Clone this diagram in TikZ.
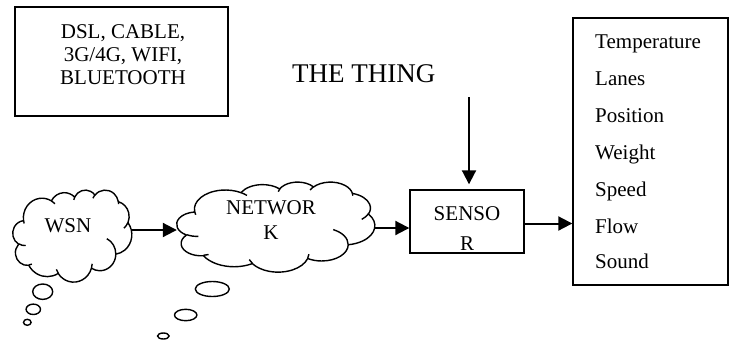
\documentclass[tikz,border=0pt]{standalone}
\usepackage{fontspec}
\setmainfont{Liberation Serif}
\usetikzlibrary{arrows.meta,calc}

% Elliptic arc given by radii, visual start angle and sweep (office-style arcTo)
\tikzset{
  oarc/.code args={#1/#2/#3/#4}{%
    \pgfmathsetmacro\oarcA{atan2(#1*sin(#3),#2*cos(#3))}%
    \pgfmathsetmacro\oarcB{atan2(#1*sin(#3+#4),#2*cos(#3+#4))}%
    \pgfmathsetmacro\oarcD{\oarcB-\oarcA}%
    \pgfmathsetmacro\oarcD{\oarcD<0 ? \oarcD+360 : \oarcD}%
    \edef\oarcKeys{\noexpand\pgfkeysalso{/tikz/x radius=#1,/tikz/y radius=#2,%
      /tikz/start angle=\oarcA,/tikz/delta angle=\oarcD}}%
    \oarcKeys},
  txt/.style={inner sep=0pt, font=\fontsize{21}{23}\selectfont},
  frame/.style={draw, line width=1.4pt, inner sep=0pt},
  cloudarea/.style={inner sep=0pt},
  cloudline/.style={line width=1.4pt, line join=round},
  bubble/.style={line width=1.4pt},
  flow/.style={line width=2pt, -{Triangle[length=14pt,width=14pt]}}
}

\begin{document}
\begin{tikzpicture}[x=1pt,y=-1pt]
  \useasboundingbox (0,0) rectangle (735,343);

  % access technologies box
  \node[frame, minimum width=213pt, minimum height=109pt] (dslbox) at (121.5,61.5) {};
  \node[txt, align=center, anchor=north] (dsltext) at (123,24) {DSL, CABLE,\\3G/4G, WIFI,\\BLUETOOTH};

  % title
  \node[txt, font=\fontsize{27}{30}\selectfont, anchor=base west] (thing) at (292,82) {THE THING};

  % areas covered by the clouds
  \node[cloudarea, minimum width=119pt, minimum height=92pt] (wsn) at (72.5,236) {};
  \node[cloudarea, minimum width=198pt, minimum height=90pt] (net) at (276,227) {};

  % cloud outlines with their inner folds
  \foreach \c/\w/\h in {wsn/119/92, net/198/90}{
    \begin{scope}[shift={(\c.north west)}, xscale=\w/432, yscale=\h/432]
      \draw[cloudline, fill=white] (39.00,143.70)
        arc[oarc=67.53/91.90/-190.487/123.781]
        arc[oarc=53.33/72.67/-144.102/89.945]
        arc[oarc=43.65/59.45/-145.808/99.723]
        arc[oarc=48.57/65.95/-130.986/117.242]
        arc[oarc=53.33/72.73/-78.709/109.027]
        arc[oarc=67.75/92.20/-46.267/130.269]
        arc[oarc=57.85/78.67/0.625/114.033]
        arc[oarc=67.52/92.15/22.452/115.173]
        arc[oarc=77.20/105.43/66.243/75.711]
        arc[oarc=43.60/59.18/-274.942/146.736]
        arc[oarc=43.45/59.45/-246.829/152.519]
        -- cycle;
      \draw[cloudline]
        (46.93,261.77) arc[oarc=43.45/59.45/86.742/26.430]
        (69.28,348.99) arc[oarc=43.60/59.18/73.610/11.447]
        (164.78,390.90) arc[oarc=67.52/92.15/137.624/14.081]
        (288.27,347.51) arc[oarc=67.52/92.15/6.453/15.998]
        (341.29,229.54) arc[oarc=57.85/78.67/-70.292/70.917]
        (417.98,153.54) arc[oarc=53.33/72.73/30.318/27.752]
        (383.24,54.26) arc[oarc=48.57/65.95/-13.744/14.859]
        (290.78,39.52) arc[oarc=48.57/65.95/-149.181/18.195]
        (221.41,47.20) arc[oarc=43.65/59.45/-163.494/17.686]
        (140.00,51.92) arc[oarc=67.53/91.90/-66.707/12.319]
        (41.27,157.89) arc[oarc=67.53/91.90/157.654/11.858];
    \end{scope}
  }
  \node[txt, anchor=base] (wsntext) at (68,232) {WSN};
  \node[txt, align=center, font=\fontsize{21}{25}\selectfont, anchor=north] (nettext) at (271,200) {NETWOR\\K};

  % thought bubbles
  \draw[bubble] (42.7,291.7) ellipse [x radius=10, y radius=7.7];
  \draw[bubble] (33.3,309.3) ellipse [x radius=7.2, y radius=5.2];
  \draw[bubble] (27.3,322.3) ellipse [x radius=3.8, y radius=3];
  \draw[bubble] (212.3,289) ellipse [x radius=17, y radius=7.5];
  \draw[bubble] (185.7,315) ellipse [x radius=11.2, y radius=5.7];
  \draw[bubble] (163.3,336) ellipse [x radius=5.8, y radius=3];

  % sensor
  \node[frame, minimum width=114pt, minimum height=63pt] (sensor) at (467,221.5) {};
  \node[txt, align=center, font=\fontsize{21}{30.5}\selectfont, anchor=north] (sensortext) at (467,206) {SENSO\\R};

  % measured quantities
  \node[frame, minimum width=155pt, minimum height=267pt] (list) at (650.5,151.5) {};
  \foreach \w/\yy in {Temperature/48, Lanes/85, Position/122, Weight/159, Speed/196, Flow/233, Sound/268}
    \node[txt, anchor=base west] (item-\w) at (595,\yy) {\w};

  % connectors
  \coordinate (thingin) at (469,97);
  \draw[flow, shorten >=5pt] (thingin) -- (thingin |- sensor.north);
  \draw[flow] ([yshift=6pt]wsn.east) -- ([yshift=6pt]wsn.east -| net.west);
  \draw[flow] ([yshift=-1pt]net.east) -- ([yshift=-1pt]net.east -| sensor.west);
  \draw[flow] ([yshift=-2pt]sensor.east) -- ([yshift=-2pt]sensor.east -| list.west);
\end{tikzpicture}
\end{document}
